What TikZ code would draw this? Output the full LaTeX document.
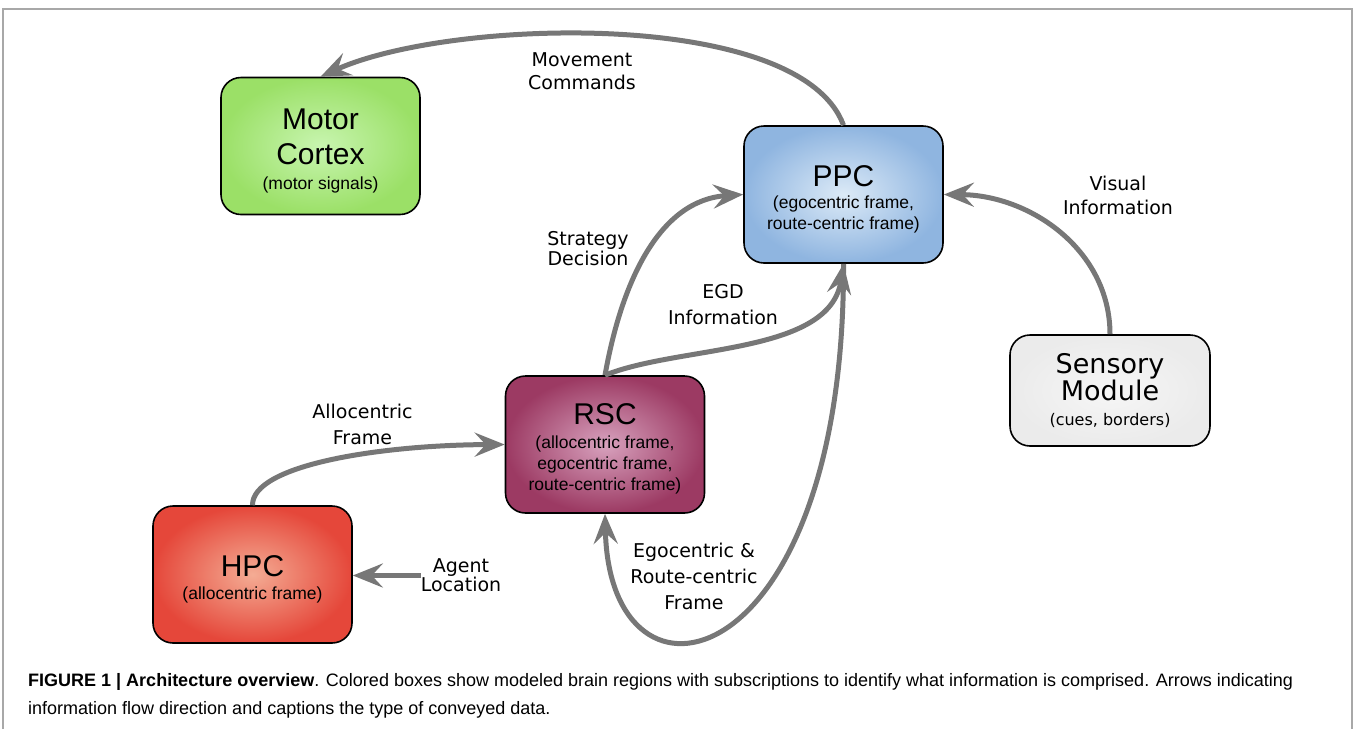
\documentclass[tikz,border=0pt]{standalone}
\usepackage{fontspec}
\setmainfont{Liberation Sans}
\newfontfamily\boxfont{Liberation Sans}
\newfontfamily\labfont{DejaVu Sans}
\usetikzlibrary{arrows.meta}
\definecolor{flowgray}{HTML}{777777}
\definecolor{framegray}{HTML}{A8A8A8}
\definecolor{motorin}{HTML}{C8F5B0}
\definecolor{motorout}{HTML}{9BE067}
\definecolor{ppcin}{HTML}{DCEAF7}
\definecolor{ppcout}{HTML}{8FB5E0}
\definecolor{rscin}{HTML}{D8A2BE}
\definecolor{rscout}{HTML}{9C3A63}
\definecolor{hpcin}{HTML}{F4AC94}
\definecolor{hpcout}{HTML}{E5473A}
\definecolor{sensin}{HTML}{F6F6F6}
\definecolor{sensout}{HTML}{EBEBEB}
\def\regionsub{\fontsize{17.5}{21}\selectfont}
\def\regiontop{\rule{0pt}{30pt}}
\tikzset{
  region/.style={draw=black, line width=1.6pt, rounded corners=20pt,
    minimum width=199pt, minimum height=137pt, inner sep=0pt,
    align=center, font=\boxfont\fontsize{30}{35}\selectfont},
  flow/.style={draw=flowgray, line width=5pt,
    -{Stealth[length=30pt,width=24pt,inset=11pt]}},
  flowlabel/.style={font=\labfont\fontsize{19}{23}\selectfont,
    align=center, inner sep=0pt}
}

\begin{document}
\begin{tikzpicture}[x=1pt,y=-1pt]
		%%%%% START %%%%%
		\useasboundingbox (0,0) rectangle (1355,729);
		\draw[framegray, line width=1.5pt] (3,729) -- (3,9) -- (1352,9) -- (1352,729);
		
		\node[region, inner color=motorin, outer color=motorout] (motor) at (320.5,146)
			{\regiontop Motor\\Cortex\\[-10pt]{\regionsub (motor signals)}};
		\node[region, inner color=ppcin, outer color=ppcout] (ppc) at (843.5,194.5)
			{\regiontop PPC\\[-13pt]{\regionsub (egocentric frame,}\\[-14pt]{\regionsub route-centric frame)}};
		\node[region, inner color=rscin, outer color=rscout] (rsc) at (605,444.5)
			{\regiontop RSC\\[-11pt]{\regionsub (allocentric frame,}\\[-14pt]{\regionsub egocentric frame,}\\[-14pt]{\regionsub route-centric frame)}};
		\node[region, inner color=hpcin, outer color=hpcout] (hpc) at (252.5,574.5)
			{\regiontop HPC\\[-12pt]{\regionsub (allocentric frame)}};
		\node[region, minimum width=200pt, minimum height=111pt, inner color=sensin, outer color=sensout,
			font=\labfont\fontsize{27}{27}\selectfont] (sensory) at (1110,390.5)
			{Sensory\\Module\\[-2pt]{\fontsize{16}{20}\selectfont (cues, borders)}};
		
		\node[flowlabel] (movelab) at (582,71.5) {Movement\\Commands};
		\node[flowlabel] (stratlab) at (588,249) {Strategy\\[-3pt]Decision};
		\node[flowlabel] (egdlab) at (723,305) {EGD\\[3pt]Information};
		\node[flowlabel] (vislab) at (1118,195) {Visual\\[1pt]Information};
		\node[flowlabel] (allolab) at (362.5,424) {Allocentric\\[3pt]Frame};
		\node[flowlabel] (agent) at (461,575.5) {Agent\\[-4pt]Location};
		\node[flowlabel] (egolab) at (694,576) {Egocentric \&\\[3pt]Route-centric\\[3pt]Frame};
		
		% connectors
		\draw[flow] (ppc.north) .. controls (800,8) and (450,18) .. (motor.north);
		\draw[flow] (ppc.south) .. controls (845,680) and (610,730) .. (rsc.south);
		\draw[flow] (rsc.north) .. controls (622,280) and (660,200) .. (ppc.west);
		\draw[flow] (rsc.north) .. controls (680,345) and (830,355) .. (ppc.south);
		\draw[flow] (hpc.north) .. controls (252,465) and (380,445) .. (rsc.west);
		\draw[flow] (agent.west) -- (agent.west -| hpc.east);
		\draw[flow] (sensory.north) .. controls (1110,250) and (1030,195) .. (ppc.east);
		
		\node[anchor=north west, align=left, inner sep=0pt,
			font=\fontsize{18}{28}\selectfont] (caption) at (28,673)
			{\textbf{FIGURE 1 | Architecture overview}. Colored boxes show modeled brain regions with subscriptions to identify what information is comprised. Arrows indicating\\
			information flow direction and captions the type of conveyed data.};
		%%%%% END %%%%%
	\end{tikzpicture}
\end{document}
